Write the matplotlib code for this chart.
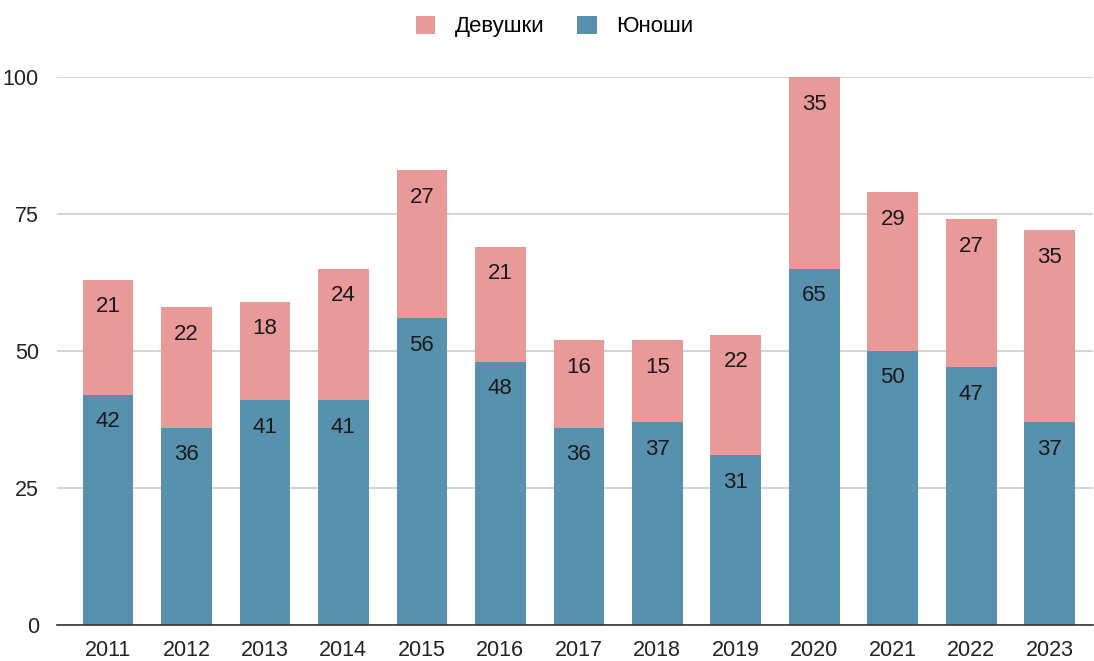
import matplotlib.pyplot as plt

plt.rcParams['font.family'] = ['Liberation Sans', 'DejaVu Sans']

years = ["2011", "2012", "2013", "2014", "2015", "2016", "2017",
         "2018", "2019", "2020", "2021", "2022", "2023"]
boys = [42, 36, 41, 41, 56, 48, 36, 37, 31, 65, 50, 47, 37]
girls = [21, 22, 18, 24, 27, 21, 16, 15, 22, 35, 29, 27, 35]

c_boys = "#5891ad"
c_girls = "#ea9999"

fig = plt.figure(figsize=(10.94, 6.61), dpi=100)
ax = fig.add_axes([0.052, 0.0545, 0.947, 0.829])

x = list(range(len(years)))
b1 = ax.bar(x, boys, width=0.645, color=c_boys, label="Юноши", zorder=2)
b2 = ax.bar(x, girls, width=0.645, bottom=boys, color=c_girls, label="Девушки", zorder=2)

for i in x:
    ax.annotate(str(boys[i]), (i, boys[i]), xytext=(0, -27), textcoords="offset pixels",
                ha="center", va="center", fontsize=16, color="#1a1a1a", zorder=3)
    ax.annotate(str(girls[i]), (i, boys[i] + girls[i]), xytext=(0, -27), textcoords="offset pixels",
                ha="center", va="center", fontsize=16, color="#1a1a1a", zorder=3)

ax.set_xlim(-0.65, 12.55)
ax.set_ylim(0, 100)
ax.set_yticks([0, 25, 50, 75, 100])
ax.set_xticks(x)
ax.set_xticklabels(years)
ax.tick_params(axis="both", length=0, labelsize=15.5, colors="#222222")
ax.tick_params(axis="x", pad=11)
ax.tick_params(axis="y", pad=13)
ax.grid(axis="y", color="#cccccc", linewidth=1.2, zorder=0)
for s in ["top", "right", "left"]:
    ax.spines[s].set_visible(False)
ax.spines["bottom"].set_color("#333333")
ax.spines["bottom"].set_linewidth(1.2)
ax.spines["bottom"].set_zorder(4)

leg = ax.legend(handles=[b2, b1], loc="center", bbox_to_anchor=(0.507, 0.96),
                bbox_transform=fig.transFigure, ncol=2, frameon=False, fontsize=16,
                handlelength=0.88, handleheight=0.88, columnspacing=1.45, handletextpad=0.9)

fig.savefig("out.png", dpi=100)
